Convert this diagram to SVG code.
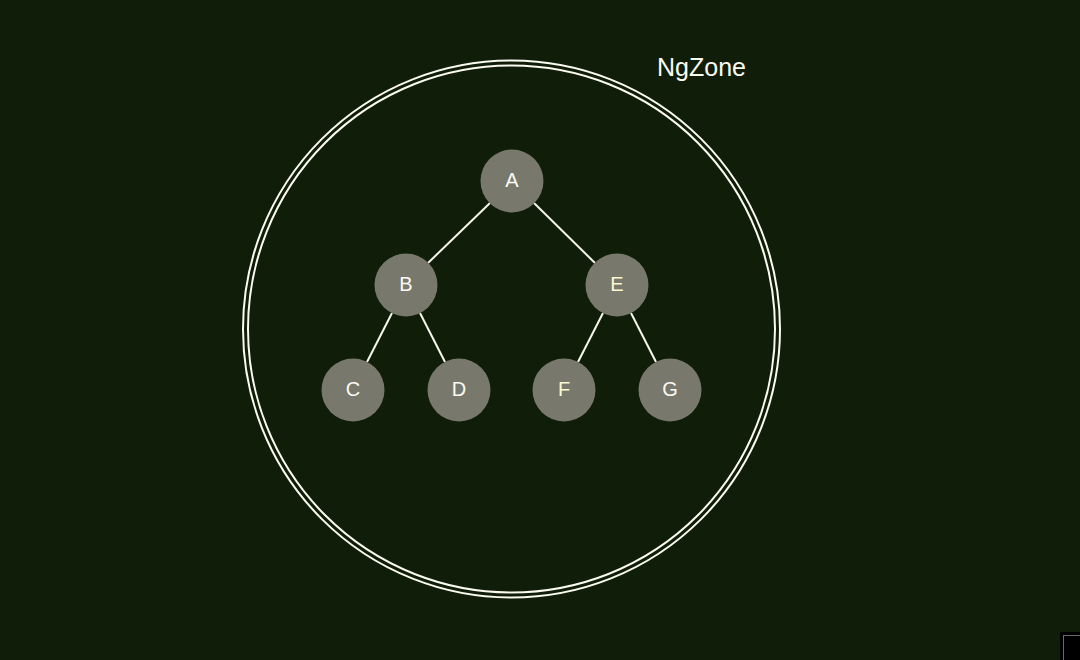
<svg xmlns="http://www.w3.org/2000/svg" width="1080" height="660" viewBox="0 0 1080 660">
<style>
.zone{fill:none;stroke:#fafaf0;stroke-width:2}
.node circle{fill:#79786c}
.node text{font-family:"Liberation Sans",Arial,sans-serif;font-size:20px;fill:#fafaf5;text-anchor:middle;dominant-baseline:central}
.edge{stroke:#f5f5ec;stroke-width:2}
</style>
<rect width="1080" height="660" fill="#101d08"/>
<g id="ngzone">
<circle class="zone" cx="511.5" cy="329" r="268.5"/>
<circle class="zone" cx="511.5" cy="329" r="263.5"/>
<text x="657" y="76" font-family="Liberation Sans,Arial,sans-serif" font-size="25" fill="#fafaf0">NgZone</text>
</g>
<g id="connectors">
<line class="edge" x1="490" y1="203" x2="428" y2="263"/>
<line class="edge" x1="534" y1="203" x2="595" y2="263"/>
<line class="edge" x1="392" y1="313" x2="367" y2="362"/>
<line class="edge" x1="420" y1="313" x2="445" y2="362"/>
<line class="edge" x1="603" y1="313" x2="578" y2="362"/>
<line class="edge" x1="631" y1="313" x2="656" y2="362"/>
</g>
<g id="A" class="node"><circle cx="512" cy="181" r="31.5"/><text x="512" y="180">A</text></g>
<g id="B" class="node"><circle cx="406" cy="285" r="31.5"/><text x="406" y="284">B</text></g>
<g id="E" class="node"><circle cx="617" cy="285" r="31.5"/><text x="617" y="284" style="fill:#fafad2">E</text></g>
<g id="C" class="node"><circle cx="353" cy="390" r="31.5"/><text x="353" y="389">C</text></g>
<g id="D" class="node"><circle cx="459" cy="390" r="31.5"/><text x="459" y="389">D</text></g>
<g id="F" class="node"><circle cx="564" cy="390" r="31.5"/><text x="564" y="389" style="fill:#fafad2">F</text></g>
<g id="G" class="node"><circle cx="670" cy="390" r="31.5"/><text x="670" y="389">G</text></g>
<rect x="1060" y="632" width="20" height="28" fill="#000"/>
<rect x="1063.5" y="635.5" width="20" height="28" fill="none" stroke="#6a6a66" stroke-width="1"/>
</svg>
